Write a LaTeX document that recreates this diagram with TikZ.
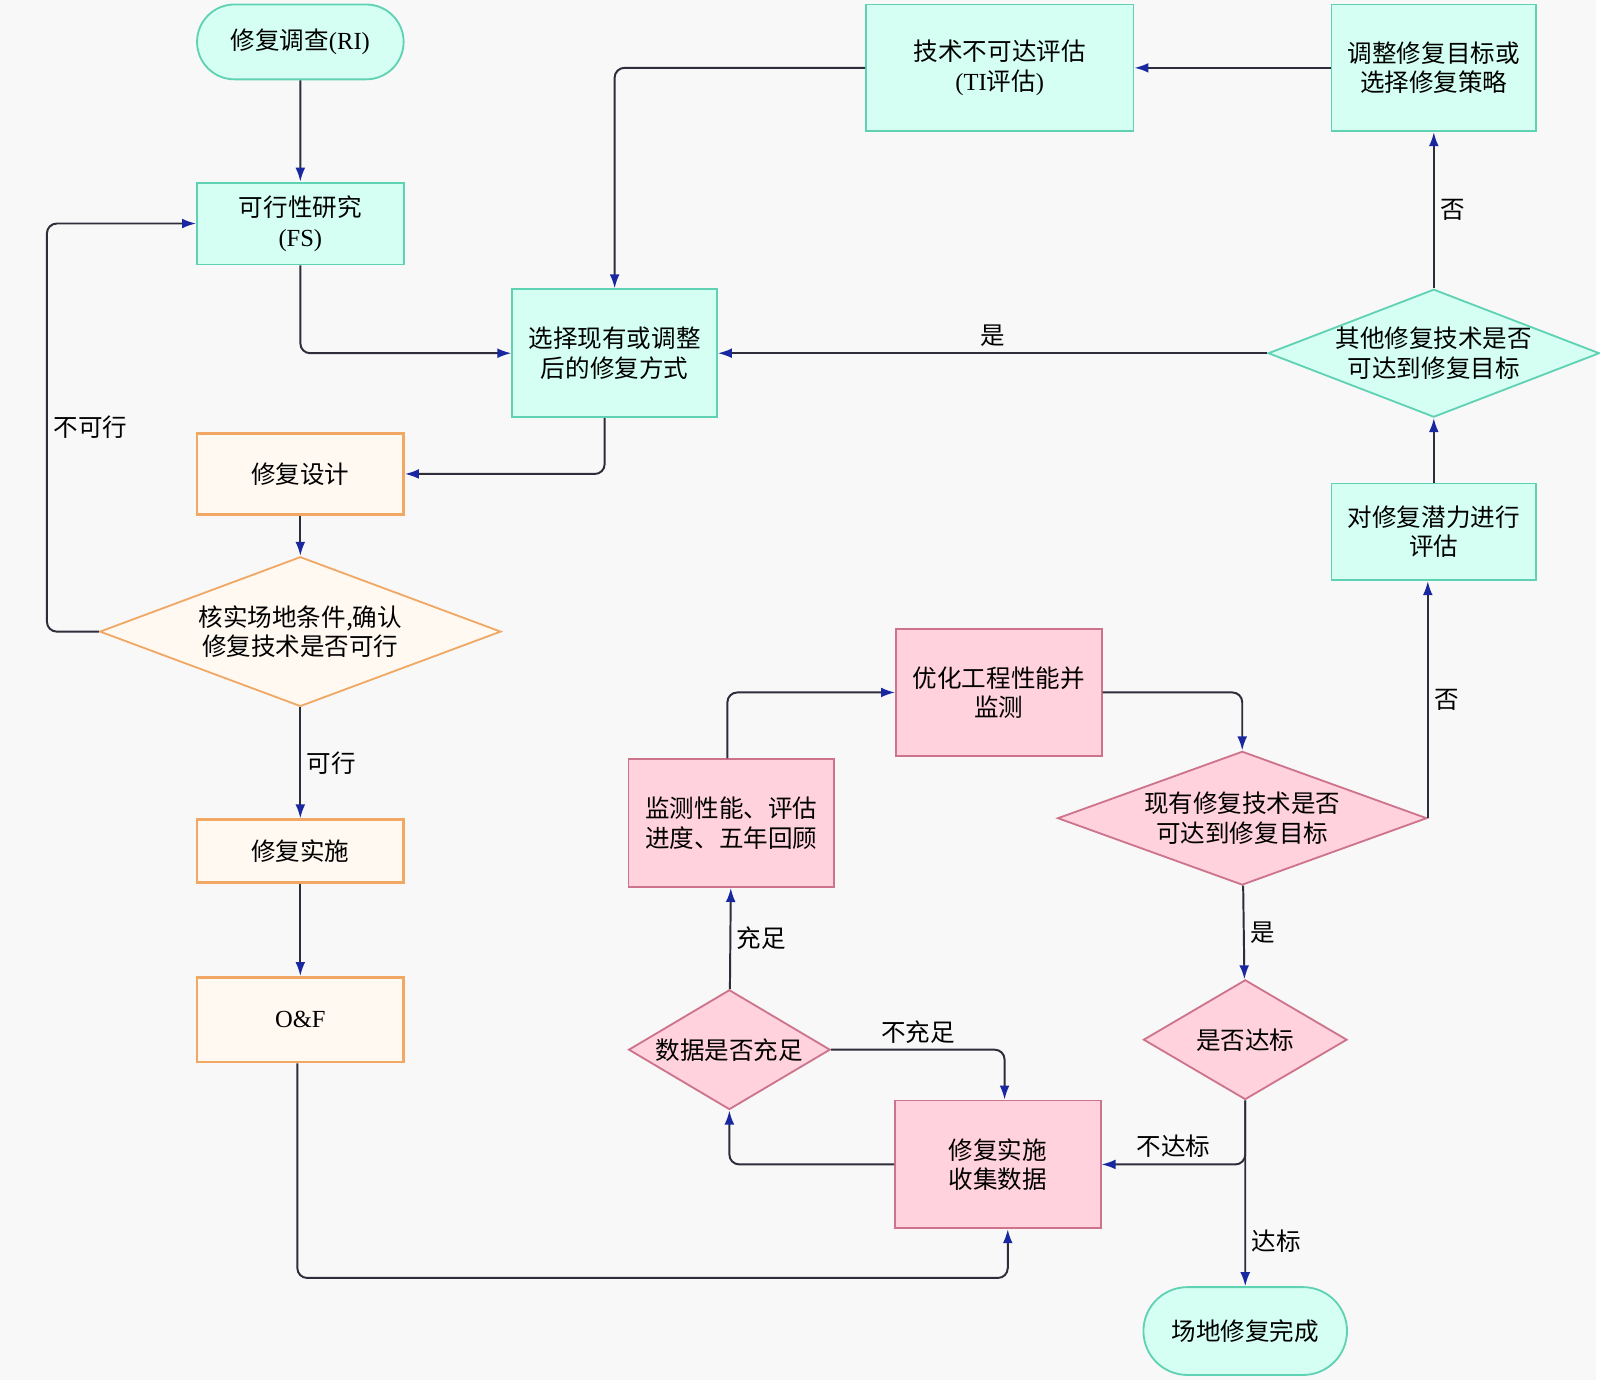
\documentclass[tikz,border=0pt]{standalone}
\usepackage{fontspec}
\setmainfont{Liberation Serif}
\newfontfamily\cjk{Noto Sans CJK SC}
\usetikzlibrary{shapes, positioning, arrows.meta}
\definecolor{aqua}{RGB}{212,255,242}
\definecolor{aqualine}{RGB}{95,210,180}
\definecolor{peach}{RGB}{255,249,242}
\definecolor{peachline}{RGB}{240,168,100}
\definecolor{rose}{RGB}{255,210,222}
\definecolor{roseline}{RGB}{205,115,140}
\definecolor{wire}{RGB}{45,45,60}
\definecolor{tipblue}{RGB}{25,40,160}
\definecolor{paper}{RGB}{248,248,248}
\NewDocumentCommand{\latin}{m}{{\rmfamily #1}}

\begin{document}
\begin{tikzpicture}[x=0.025cm, y=-0.025cm, font=\fontsize{17.5}{21}\cjk,
                    box/.style = {draw, rectangle, align=center, inner sep=0pt,
                        line width=1.3pt},
                    aquabox/.style = {box, fill=aqua, draw=aqualine},
                    peachbox/.style = {box, fill=peach, draw=peachline, line width=1.8pt},
                    rosebox/.style = {box, fill=rose, draw=roseline},
                    term/.style = {rounded rectangle, draw=aqualine, fill=aqua,
                        line width=1.3pt, inner sep=0pt},
                    decide/.style = {diamond, draw, align=center, inner sep=0pt,
                        line width=1.3pt},
                    link/.style = {draw=wire, line width=1.4pt, rounded corners=7pt,
                        -{Latex[length=10pt, width=7pt, color=tipblue]}},
                    tag/.style = {inner sep=4pt}]
        \fill[paper] (0,0) rectangle (1600,1383);

        % left column
        \node[term, minimum width=5.175cm, minimum height=1.875cm] (ri) at (301,42) {修复调查\latin{(RI)}};
        \node[aquabox, minimum width=5.175cm, minimum height=2.05cm] (fs) at (301,224) {可行性研究\\\latin{(FS)}};
        \node[peachbox, minimum width=5.175cm, minimum height=2.025cm] (design) at (301,475) {修复设计};
        \node[decide, fill=peach, draw=peachline, aspect=2.68, minimum width=10.05cm,
              minimum height=3.75cm] (verify) at (301,633) {核实场地条件,确认\\修复技术是否可行};
        \node[peachbox, minimum width=5.175cm, minimum height=1.575cm] (build) at (301,853) {修复实施};
        \node[peachbox, minimum width=5.175cm, minimum height=2.125cm] (of) at (301,1022) {\latin{O\&F}};

        % top and right
        \node[aquabox, minimum width=5.125cm, minimum height=3.2cm] (select) at (616,354) {选择现有或调整\\后的修复方式};
        \node[aquabox, minimum width=6.7cm, minimum height=3.175cm] (ti) at (1002,68) {技术不可达评估\\\latin{(TI}评估\latin{)}};
        \node[aquabox, minimum width=5.125cm, minimum height=3.175cm] (adjust) at (1437,68) {调整修复目标或\\选择修复策略};
        \node[decide, fill=aqua, draw=aqualine, aspect=2.59, minimum width=7.975cm,
              minimum height=3.075cm] (other) at (1437,354) {其他修复技术是否\\可达到修复目标};
        \node[aquabox, minimum width=5.125cm, minimum height=2.425cm] (assess) at (1437,533) {对修复潜力进行\\评估};

        % monitoring loop
        \node[rosebox, minimum width=5.15cm, minimum height=3.2cm] (optimize) at (1001,694) {优化工程性能并\\监测};
        \node[rosebox, minimum width=5.15cm, minimum height=3.2cm] (monitor) at (733,825) {监测性能、评估\\进度、五年回顾};
        \node[decide, fill=rose, draw=roseline, aspect=2.76, minimum width=9.25cm,
              minimum height=3.35cm] (existing) at (1245,820) {现有修复技术是否\\可达到修复目标};
        \node[decide, fill=rose, draw=roseline, aspect=1.68, minimum width=5.05cm,
              minimum height=3cm] (enough) at (731,1052) {数据是否充足};
        \node[rosebox, minimum width=5.15cm, minimum height=3.2cm] (collect) at (1000,1167) {修复实施\\收集数据};
        \node[decide, fill=rose, draw=roseline, aspect=1.7, minimum width=5.1cm,
              minimum height=3cm] (reach) at (1248,1042) {是否达标};
        \node[term, minimum width=5.1cm, minimum height=2.2cm] (done) at (1248,1334) {场地修复完成};

        \draw[link] (ri) -- (fs);
        \draw[link] (fs.south) |- (select.west);
        \draw[link] (ti.west) -| (select.north);
        \draw[link] (adjust) -- (ti);
        \draw[link] (other) -- node[tag, above] {是} (select);
        \draw[link] (other) -- node[tag, right] {否} (adjust);
        \draw[link] (assess) -- (other);
        \draw[link] ([xshift=-0.25cm]select.south) |- (design.east);
        \draw[link] (design) -- (verify);
        \draw[link] (verify.west) -- ++(-52,0) |- node[tag, pos=0.25, right] {不可行} (fs.west);
        \draw[link] (verify) -- node[tag, right] {可行} (build);
        \draw[link] (build) -- (of);
        \draw[link] ([xshift=-0.075cm]of.south) -- ++(0,215) -| ([xshift=0.25cm]collect.south);
        \draw[link] (collect.west) -| (enough.south);
        \draw[link] (enough.east) -| node[tag, pos=0.25, above] {不充足} ([xshift=0.17cm]collect.north);
        \draw[link] (enough) -- node[tag, right] {充足} (monitor);
        \draw[link] ([xshift=-0.1cm]monitor.north) |- (optimize.west);
        \draw[link] (optimize.east) -| (existing.north);
        \draw[link] (existing.east) -- node[tag, right] {否} (existing.east |- assess.south);
        \draw[link] (existing) -- node[tag, right] {是} (reach);
        \draw[link] (reach) -- node[tag, pos=0.76, right] {达标} (done);
        \draw[link] (reach.south) |- node[tag, pos=0.75, above] {不达标} (collect.east);
    \end{tikzpicture}
\end{document}
